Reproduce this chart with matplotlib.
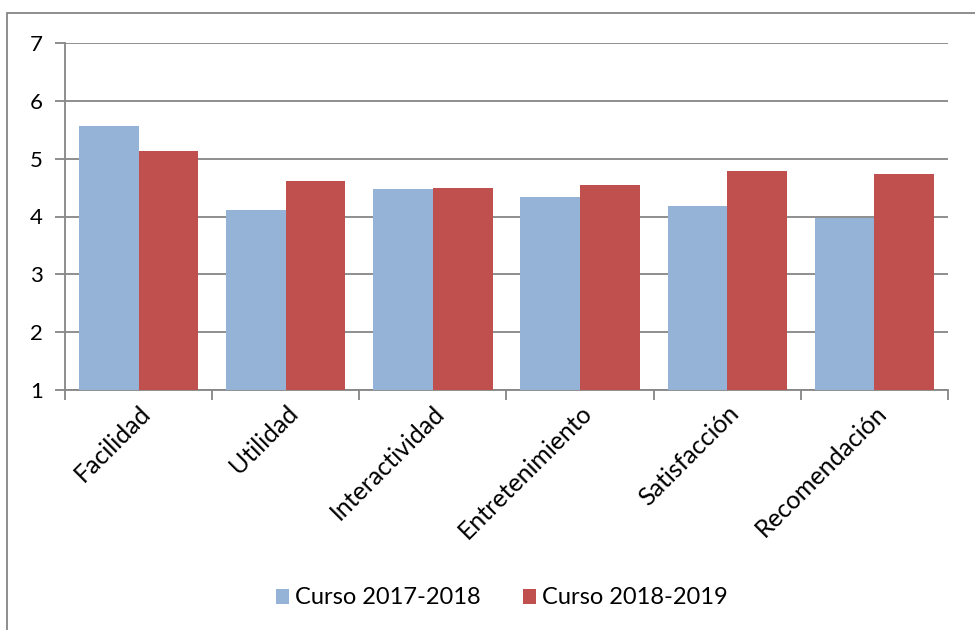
import matplotlib.pyplot as plt
from matplotlib.patches import Rectangle
import numpy as np

categories = ['Facilidad', 'Utilidad', 'Interactividad', 'Entretenimiento',
              'Satisfacción', 'Recomendación']
curso_1718 = [5.56, 4.12, 4.47, 4.33, 4.18, 3.98]
curso_1819 = [5.13, 4.62, 4.50, 4.55, 4.79, 4.74]
series_names = ['Curso 2017-2018', 'Curso 2018-2019']

plt.rcParams['font.family'] = ['Lato', 'DejaVu Sans']

fig = plt.figure(figsize=(9.75, 6.3), dpi=100)
ax = fig.add_axes([65 / 975, 1 - 390 / 630, 883 / 975, 347 / 630])

x = np.arange(len(categories))
w = 0.405
base = 1
ax.bar(x - w / 2, np.array(curso_1718) - base, w, bottom=base, color='#95B3D7',
       label=series_names[0], zorder=3)
ax.bar(x + w / 2, np.array(curso_1819) - base, w, bottom=base, color='#C0504D',
       label=series_names[1], zorder=3)

ax.set_xlim(-0.5, len(categories) - 0.5)
ax.set_ylim(1, 7)
ax.set_yticks(range(1, 8))
ax.grid(axis='y', color='#868686', linewidth=1.3, zorder=0)

for s in ['top', 'right']:
    ax.spines[s].set_visible(False)
for s in ['left', 'bottom']:
    ax.spines[s].set_color('#868686')
    ax.spines[s].set_linewidth(1.3)

# x ticks on category boundaries, labels centred
ax.set_xticks(np.arange(-0.5, len(categories)), minor=False)
ax.set_xticklabels([])
ax.set_xticks(x, minor=True)
ax.set_xticklabels(categories, minor=True, rotation=45, ha='right',
                   rotation_mode='anchor', fontsize=18)
ax.tick_params(axis='x', which='minor', length=0, pad=8)
ax.tick_params(axis='x', which='major', length=7, color='#868686', width=1.3)
ax.tick_params(axis='y', length=7, color='#868686', width=1.3, labelsize=16, pad=9)

fig.legend(loc='center', bbox_to_anchor=(502 / 975, 1 - 598 / 630), ncol=2,
           frameon=False, fontsize=17, handlelength=0.55, handleheight=0.6,
           handletextpad=0.25, columnspacing=1.8)

fig.patches.append(Rectangle((7 / 975, -0.1), 1.2, 1 - 13 / 630 + 0.1,
                             transform=fig.transFigure, fill=False,
                             edgecolor='#868686', linewidth=1.3))

fig.savefig('out.png', dpi=100)
